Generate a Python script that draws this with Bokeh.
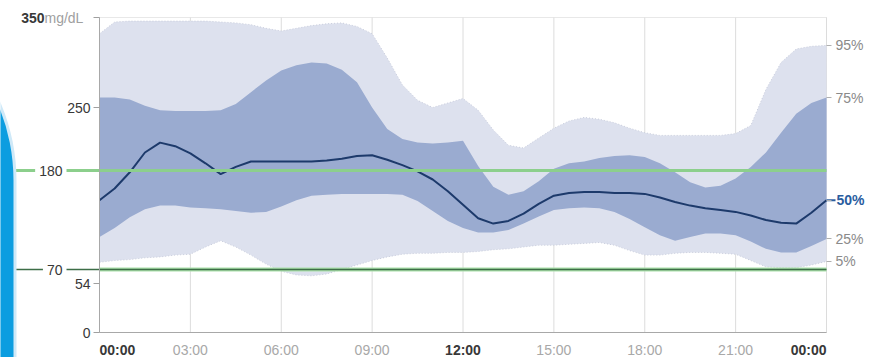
from bokeh.embed import file_html
from bokeh.models import BoxAnnotation, FixedTicker, Label, LinearAxis, Range1d
from bokeh.plotting import figure
from bokeh.resources import INLINE

# Ambulatory glucose profile: hour of day vs. glucose percentiles (mg/dL)
hours = [h / 2 for h in range(49)]

p95 = [332, 345, 346, 346, 346, 346, 346, 346, 345, 344, 342, 338, 335, 338, 341, 343, 344,
       340, 332, 305, 275, 258, 250, 255, 260, 247, 225, 208, 205, 216, 227, 235, 239, 237,
       233, 227, 222, 219, 219, 219, 219, 219, 221, 230, 270, 300, 315, 318, 319]
p75 = [261, 261, 259, 252, 247, 246, 246, 246, 247, 254, 267, 280, 291, 297, 300, 299, 292,
       278, 250, 226, 215, 211, 210, 211, 213, 185, 162, 153, 157, 168, 182, 188, 190, 194,
       196, 197, 195, 188, 178, 167, 161, 163, 171, 184, 200, 222, 243, 255, 261]
p50 = [147, 160, 178, 200, 211, 207, 199, 188, 176, 184, 190, 190, 190, 190, 190, 191, 193,
       196, 197, 192, 186, 179, 170, 157, 142, 127, 121, 124, 132, 143, 152, 155, 156, 156,
       155, 155, 154, 150, 145, 141, 138, 136, 134, 130, 125, 122, 121, 133, 147]
p25 = [106, 116, 128, 137, 141, 141, 139, 138, 137, 135, 133, 134, 140, 147, 152, 153, 154,
       154, 154, 154, 153, 146, 135, 124, 116, 111, 111, 114, 121, 129, 136, 138, 139, 138,
       134, 126, 117, 108, 102, 106, 110, 110, 108, 101, 93, 89, 89, 96, 104]
p05 = [78, 80, 81, 83, 84, 86, 87, 95, 102, 95, 86, 76, 68, 64, 63, 65, 70, 75, 80, 84, 87,
       88, 88, 89, 89, 90, 92, 93, 95, 97, 97, 98, 99, 100, 97, 91, 86, 86, 88, 89, 89, 88,
       87, 80, 73, 72, 72, 75, 79]

x_ticks = [0, 3, 6, 9, 12, 15, 18, 21, 24]
x_tick_labels = ["00:00", "03:00", "06:00", "09:00", "12:00", "15:00", "18:00", "21:00", "00:00"]
x_bold_ticks = [0, 12, 24]
y_ticks = [0, 54, 250, 350]
y_tick_labels = ["0", "54", "250", "350"]
y_unit = "mg/dL"
target_low, target_high = 70, 180
pct_labels = ["95%", "75%", "50%", "25%", "5%"]

FONT = "Liberation Sans"
FS = "14px"
W, H = 871, 357
# chart area inside the canvas
AREA_L, AREA_R, AREA_T, AREA_B = 99, 826, 17, 332
X_MAX, Y_MAX = 24, 350


def x_at(px):
    """Data x of a canvas column (for texts and decorations around the chart area)."""
    return (px - AREA_L) * X_MAX / (AREA_R - AREA_L)


def y_at(py):
    """Data y of a canvas row."""
    return (AREA_B - py) * Y_MAX / (AREA_B - AREA_T)


# the plot frame covers the whole canvas; axes are pinned to the chart area edges
p = figure(width=W, height=H, title=None,
           x_range=Range1d(x_at(0), x_at(W)), y_range=Range1d(y_at(H), y_at(0)),
           output_backend="svg", toolbar_location=None,
           min_border_left=0, min_border_right=0, min_border_top=0, min_border_bottom=0)
p.background_fill_color = "white"
p.border_fill_color = "white"
p.outline_line_color = None
p.xgrid.visible = False
p.ygrid.visible = False

# vertical hour lines
p.segment(x0=x_ticks, y0=[0] * len(x_ticks), x1=x_ticks, y1=[Y_MAX] * len(x_ticks),
          line_color="#dcdcdc", line_width=1)

# percentile bands and median
p.varea(x=hours, y1=p05, y2=p95, fill_color="#dde1ee")
p.varea(x=hours, y1=p25, y2=p75, fill_color="#9aabd0")
p.line(hours, p95, line_color="#c9cddc", line_width=1, line_dash="1 2")
p.line(hours, p05, line_color="#c9cddc", line_width=1, line_dash="1 2")
p.line(hours, p50, line_color="#1d3a6b", line_width=2)

# chart area border
p.add_layout(BoxAnnotation(left=0, right=X_MAX, bottom=0, top=Y_MAX, fill_alpha=0,
                           line_color="#b4b4b4", line_width=1, level="underlay"))

# target range lines, reaching into the left margin
p.segment(x0=[0], y0=[target_low], x1=[X_MAX], y1=[target_low], line_color="#a9dfa9", line_width=4)
p.segment(x0=[x_at(15)], y0=[target_low], x1=[X_MAX], y1=[target_low], line_color="#3d6e47", line_width=1.5)
p.segment(x0=[x_at(15)], y0=[target_high], x1=[X_MAX], y1=[target_high], line_color="#8ccf8c", line_width=3)

# bottom axis: regular hours in grey, midnight/noon drawn bold below
xa = p.xaxis[0]
xa.fixed_location = 0
xa.bounds = (0, X_MAX)
xa.ticker = FixedTicker(ticks=x_ticks)
xa.major_label_overrides = {t: ("" if t in x_bold_ticks else lab) for t, lab in zip(x_ticks, x_tick_labels)}
xa.axis_line_color = "#a8a8a8"
xa.major_tick_out = 0
xa.major_tick_in = 0
xa.minor_tick_line_color = None
xa.major_label_standoff = 9
xa.major_label_text_font = FONT
xa.major_label_text_font_size = FS
xa.major_label_text_color = "#a8a8a8"

# left axis
ya = p.yaxis[0]
ya.fixed_location = 0
ya.bounds = (0, Y_MAX)
ya.ticker = FixedTicker(ticks=y_ticks)
ya.major_label_overrides = {t: ("" if t == Y_MAX else lab) for t, lab in zip(y_ticks, y_tick_labels)}
ya.axis_line_color = "#a8a8a8"
ya.major_tick_out = 6
ya.major_tick_in = 0
ya.major_tick_line_color = "#a0a0a0"
ya.minor_tick_line_color = None
ya.major_label_standoff = 3
ya.major_label_text_font = FONT
ya.major_label_text_font_size = FS
ya.major_label_text_color = "#383838"

# right axis: percentile names at the end of each curve
ends = [p95[-1], p75[-1], p50[-1], p25[-1], p05[-1]]
ra = LinearAxis(fixed_location=X_MAX, ticker=FixedTicker(ticks=ends),
                major_label_overrides={v: ("" if lab == "50%" else lab) for v, lab in zip(ends, pct_labels)})
ra.axis_line_color = None
ra.major_tick_out = 5
ra.major_tick_in = 0
ra.major_tick_line_color = "#b0b0b0"
ra.minor_tick_line_color = None
ra.major_label_standoff = 4
ra.major_label_text_font = FONT
ra.major_label_text_font_size = FS
ra.major_label_text_color = "#8a8a8a"
p.add_layout(ra, "right")

p.segment(x0=[X_MAX], y0=[p50[-1]], x1=[x_at(AREA_R + 9)], y1=[p50[-1]], line_color="#2a5d9f", line_width=2)
p.add_layout(Label(x=X_MAX, y=p50[-1], x_offset=10, text="50%", text_baseline="middle",
                   text_font=FONT, text_font_size=FS, text_font_style="bold", text_color="#2a5d9f"))

for val in (target_high, target_low):
    p.add_layout(Label(x=x_at(66), y=val, text=str(val), text_align="right", text_baseline="middle",
                       text_font=FONT, text_font_size=FS, text_color="#383838",
                       background_fill_color="white", padding=4))

# unit label at the top of the scale
p.add_layout(Label(x=x_at(44), y=Y_MAX, text=y_unit, text_align="left", text_baseline="middle",
                   text_font=FONT, text_font_size=FS, text_color="#a0a0a0"))
p.add_layout(Label(x=x_at(44), y=Y_MAX, text=y_tick_labels[-1], text_align="right", text_baseline="middle",
                   text_font=FONT, text_font_size=FS, text_font_style="bold", text_color="#383838"))

# midnight / noon labels in bold
for t in x_bold_ticks:
    align = "left" if t == 0 else ("right" if t == X_MAX else "center")
    p.add_layout(Label(x=t, y=y_at(349), text=x_tick_labels[x_ticks.index(t)], text_align=align,
                       text_baseline="middle", text_font=FONT, text_font_size=FS,
                       text_font_style="bold", text_color="#383838"))

# side panel edge at the far left
p.add_layout(BoxAnnotation(left=x_at(-190), right=x_at(16), top=y_at(-18), bottom=y_at(420),
                           fill_color="#cfe9f8", fill_alpha=1, line_color=None,
                           border_radius=(0, 198, 0, 0)))
p.add_layout(BoxAnnotation(left=x_at(-190), right=x_at(13), top=y_at(-15), bottom=y_at(420),
                           fill_color="#0c9de0", fill_alpha=1, line_color=None,
                           border_radius=(0, 195, 0, 0)))

open("out.html", "w").write(file_html(p, INLINE))
